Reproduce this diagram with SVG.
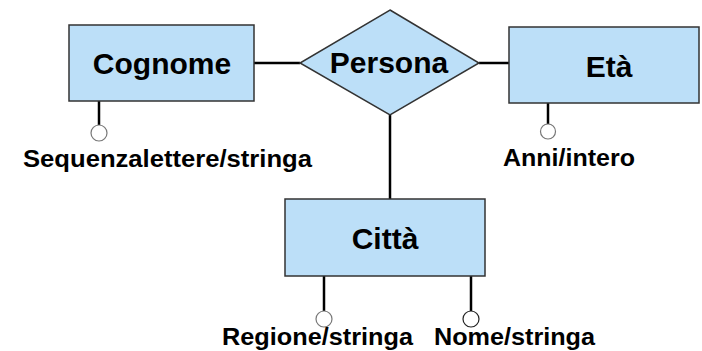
<svg xmlns="http://www.w3.org/2000/svg" width="702" height="351" viewBox="0 0 702 351">
<style>
.ent{fill:#bcdff8;stroke:#333;stroke-width:1.5}
.big{font-family:"Liberation Sans",Arial,sans-serif;font-weight:bold;font-size:30px;fill:#000;text-anchor:middle}
.sm{font-family:"Liberation Sans",Arial,sans-serif;font-weight:bold;font-size:23px;fill:#000}
.ln{stroke:#000;stroke-width:2.5;fill:none}
.att{fill:#fff;stroke:#777;stroke-width:1.2}
</style>
<rect width="702" height="351" fill="#fff"/>
<g id="connectors">
<line class="ln" x1="254" y1="63" x2="300" y2="63"/>
<line class="ln" x1="479" y1="63" x2="509" y2="63"/>
<line class="ln" x1="390" y1="115" x2="390" y2="199"/>
<line class="ln" x1="99" y1="101" x2="99" y2="125"/>
<line class="ln" x1="548" y1="103" x2="548" y2="124"/>
<line class="ln" x1="324" y1="276" x2="324" y2="311"/>
<line class="ln" x1="471" y1="276" x2="471" y2="311"/>
</g>
<g id="cognome">
<rect class="ent" x="69" y="25" width="185" height="76"/>
<text class="big" x="162" y="74">Cognome</text>
</g>
<g id="persona">
<polygon class="ent" points="390,10 479,63 390,115 300,63"/>
<text class="big" x="389" y="73">Persona</text>
</g>
<g id="eta">
<rect class="ent" x="509" y="27" width="190" height="76"/>
<text class="big" x="609" y="77">Età</text>
</g>
<g id="citta">
<rect class="ent" x="285" y="199" width="200" height="77"/>
<text class="big" x="385" y="249">Città</text>
</g>
<g id="attr-cognome">
<circle class="att" cx="99" cy="133" r="8"/>
<text class="sm" x="23" y="167" textLength="289" lengthAdjust="spacingAndGlyphs">Sequenzalettere/stringa</text>
</g>
<g id="attr-eta">
<circle class="att" cx="548" cy="131.5" r="7.5"/>
<text class="sm" x="503" y="166" textLength="132" lengthAdjust="spacingAndGlyphs">Anni/intero</text>
</g>
<g id="attr-regione">
<circle class="att" cx="324" cy="319" r="8"/>
<text class="sm" x="222" y="345" textLength="191" lengthAdjust="spacingAndGlyphs">Regione/stringa</text>
</g>
<g id="attr-nome">
<circle class="att" cx="471" cy="319" r="8" style="stroke:#222"/>
<text class="sm" x="434" y="345" textLength="161" lengthAdjust="spacingAndGlyphs">Nome/stringa</text>
</g>
</svg>
